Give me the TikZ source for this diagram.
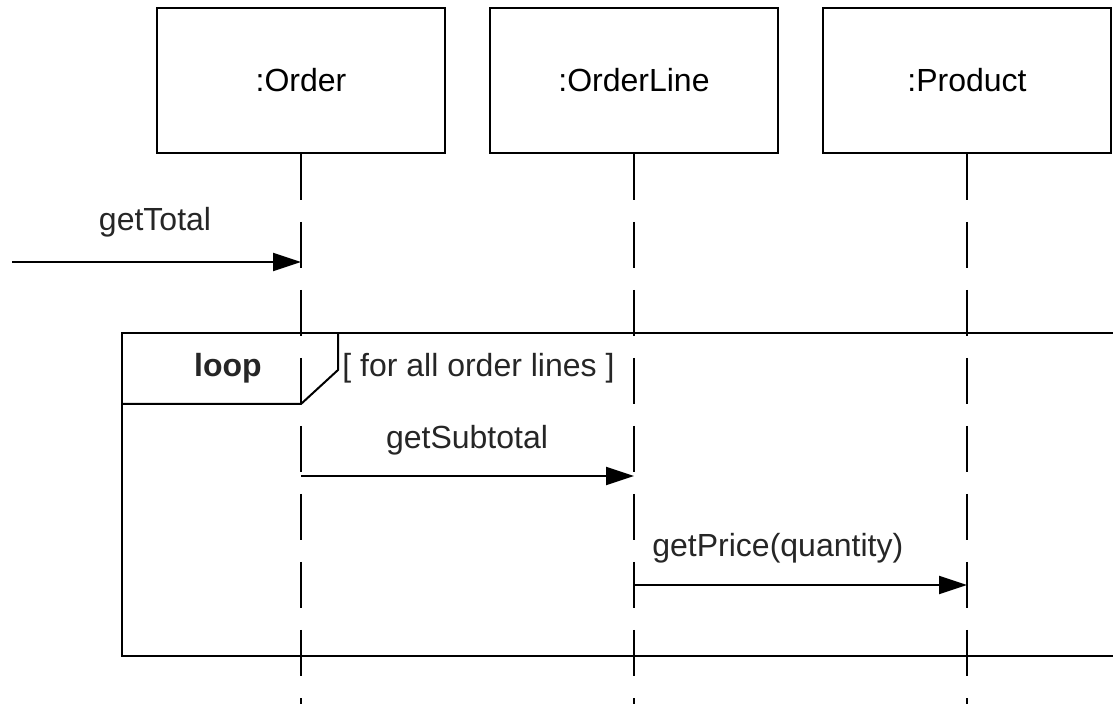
\documentclass[tikz,border=0pt]{standalone}
\usepackage{fontspec}
\setmainfont{Liberation Sans}
\usetikzlibrary{arrows.meta}

\tikzset{
  obj/.style={draw, line width=1pt, minimum width=144pt, minimum height=72.5pt, inner sep=0pt},
  lifeline/.style={line width=1pt, dash pattern=on 23pt off 11pt},
  msg/.style={line width=1pt, -{Triangle[length=14pt,width=9pt]}},
  frame/.style={line width=1pt},
  lbl/.style={inner sep=0pt, text=black!85}
}

\begin{document}
\begin{tikzpicture}[x=0.5pt,y=-0.5pt,font=\fontsize{16}{19}\selectfont]
                    \useasboundingbox (0,0) rectangle (1113,704);
                    \node[obj] (order) at (301,80.5) {:Order};
                    \node[obj] (orderline) at (634,80.5) {:OrderLine};
                    \node[obj] (product) at (967,80.5) {:Product};
                    \coordinate (orderend) at (301,704);
                    \coordinate (orderlineend) at (634,704);
                    \coordinate (productend) at (967,704);
                    \foreach \o in {order,orderline,product}
                        \draw[lifeline] (\o.south) -- (\o end);

                    \coordinate (caller) at (12,262);
                    \coordinate (total) at (301,262);
                    \draw[msg] (caller) -- (total);
                    \node[lbl] (gettotal) at (155,222) {getTotal};

                    \coordinate (ftl) at (122,333);
                    \coordinate (ftr) at (1113,333);
                    \coordinate (fbl) at (122,656);
                    \coordinate (fbr) at (1113,656);
                    \draw[frame] (ftr) -- (ftl) -- (fbl) -- (fbr);
                    \draw[frame] (338,333) -- (338,370) -- (301,404) -- (122,404);
                    \node[lbl] (loop) at (228,368) {\bfseries loop};
                    \node[lbl, anchor=west] (guard) at (342,368) {[ for all order lines ]};

                    \coordinate (sub1) at (301,476);
                    \coordinate (sub2) at (634,476);
                    \draw[msg] (sub1) -- (sub2);
                    \node[lbl] (getsubtotal) at (467,440) {getSubtotal};

                    \coordinate (price1) at (634,585);
                    \coordinate (price2) at (967,585);
                    \draw[msg] (price1) -- (price2);
                    \node[lbl, anchor=west] (getprice) at (652,548) {getPrice(quantity)};
                \end{tikzpicture}
\end{document}
